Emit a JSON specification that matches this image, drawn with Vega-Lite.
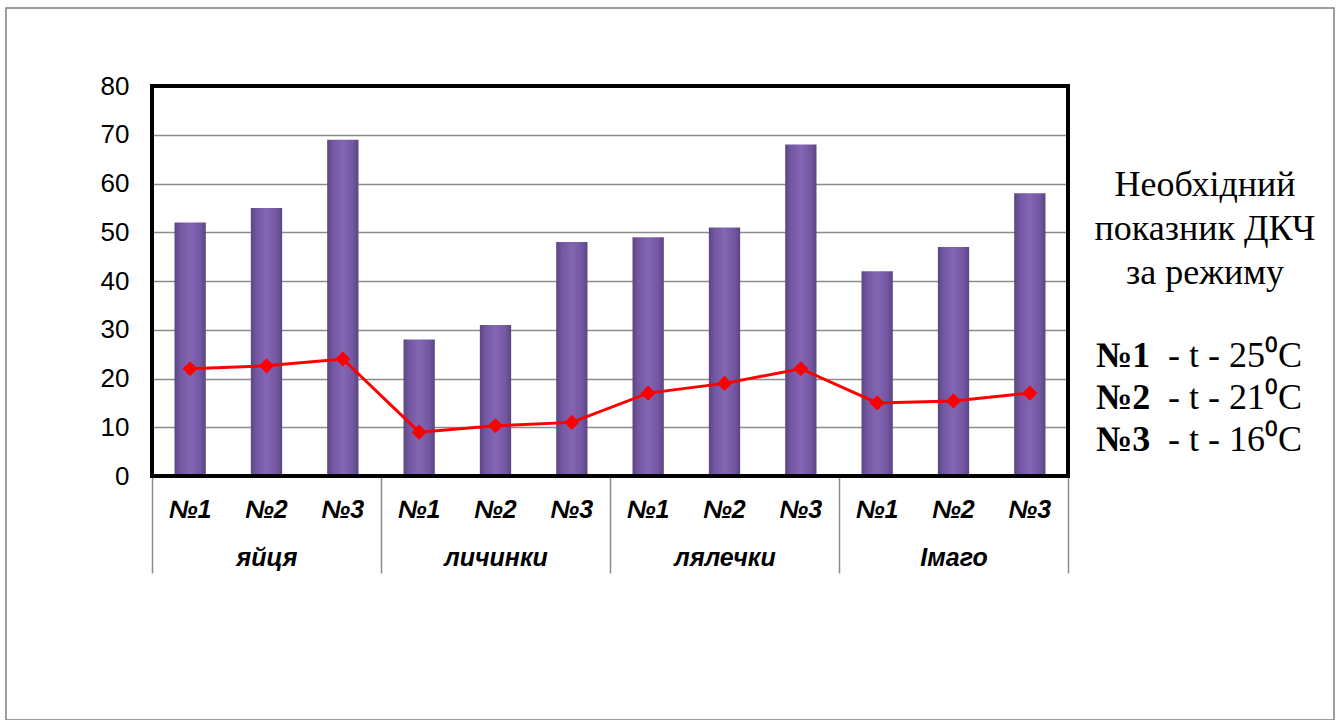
{
  "$schema": "https://vega.github.io/schema/vega-lite/v6.json",
  "width": 1328,
  "height": 712,
  "autosize": {"type": "none"},
  "padding": {"left": 6, "top": 8, "right": 5, "bottom": 0},
  "background": "white",
  "config": {
    "font": "Liberation Sans",
    "view": {"stroke": "#7f7f7f", "strokeWidth": 1.5}
  },
  "title": {
    "text": ["Необхідний", "показник ДКЧ", "за режиму"],
    "font": "Liberation Serif",
    "fontSize": 36,
    "fontWeight": "normal",
    "lineHeight": 44,
    "color": "black",
    "orient": "top",
    "anchor": "end",
    "frame": "group",
    "align": "center",
    "baseline": "top",
    "offset": 0,
    "dx": -129,
    "dy": 284
  },
  "data": {
    "values": [
      {"stage": "яйця", "regime": "№1", "temp": 25, "value": 52, "dkch": 22},
      {"stage": "яйця", "regime": "№2", "temp": 21, "value": 55, "dkch": 22.6},
      {"stage": "яйця", "regime": "№3", "temp": 16, "value": 69, "dkch": 24},
      {"stage": "личинки", "regime": "№1", "temp": 25, "value": 28, "dkch": 9},
      {"stage": "личинки", "regime": "№2", "temp": 21, "value": 31, "dkch": 10.3},
      {"stage": "личинки", "regime": "№3", "temp": 16, "value": 48, "dkch": 11},
      {"stage": "лялечки", "regime": "№1", "temp": 25, "value": 49, "dkch": 17},
      {"stage": "лялечки", "regime": "№2", "temp": 21, "value": 51, "dkch": 19},
      {"stage": "лялечки", "regime": "№3", "temp": 16, "value": 68, "dkch": 22},
      {"stage": "Імаго", "regime": "№1", "temp": 25, "value": 42, "dkch": 15},
      {"stage": "Імаго", "regime": "№2", "temp": 21, "value": 47, "dkch": 15.4},
      {"stage": "Імаго", "regime": "№3", "temp": 16, "value": 58, "dkch": 17}
    ]
  },
  "layer": [
    {
      "mark": {
        "type": "bar",
        "color": {
          "gradient": "linear", "x1": 0, "x2": 1, "y1": 0, "y2": 0,
          "stops": [
            {"offset": 0, "color": "#5a4580"},
            {"offset": 0.18, "color": "#7357a2"},
            {"offset": 0.5, "color": "#8466b2"},
            {"offset": 0.82, "color": "#7357a2"},
            {"offset": 1, "color": "#5a4580"}
          ]
        }
      },
      "encoding": {
        "x": {
          "field": "stage", "type": "nominal",
          "scale": {"type": "band", "domain": ["яйця", "личинки", "лялечки", "Імаго"], "range": [146, 1062], "paddingInner": 0, "paddingOuter": 0},
          "axis": {
            "title": null, "domain": false, "grid": false, "ticks": true, "tickBand": "extent",
            "tickSize": 97, "tickColor": "#8c8c8c", "tickWidth": 1.5,
            "labelFont": "Liberation Sans", "labelFontSize": 25, "labelFontWeight": "bold", "labelFontStyle": "italic",
            "labelColor": "black", "labelAngle": 0, "labelPadding": -28, "offset": -244
          }
        },
        "xOffset": {
          "field": "regime", "type": "nominal",
          "scale": {"domain": ["№1", "№2", "№3"], "paddingInner": 0.59, "paddingOuter": 0.295}
        },
        "y": {
          "field": "value", "type": "quantitative",
          "scale": {"domain": [0, 80], "range": [468, 78], "nice": false, "zero": true},
          "axis": {
            "title": null, "values": [0, 10, 20, 30, 40, 50, 60, 70, 80],
            "grid": true, "gridColor": "#8c8c8c", "gridWidth": 1.5,
            "domain": false, "ticks": false, "labelPadding": 23,
            "labelFont": "Liberation Sans", "labelFontSize": 26, "labelColor": "black",
            "offset": -146
          }
        }
      }
    },
    {
      "mark": {"type": "line", "color": "#ff0000", "strokeWidth": 3},
      "encoding": {
        "x": {"field": "stage", "type": "nominal"},
        "xOffset": {"field": "regime", "type": "nominal"},
        "y": {"field": "dkch", "type": "quantitative"},
        "order": {"value": null}
      }
    },
    {
      "mark": {"type": "point", "shape": "diamond", "filled": true, "size": 230, "opacity": 1},
      "encoding": {
        "x": {"field": "stage", "type": "nominal"},
        "xOffset": {"field": "regime", "type": "nominal"},
        "y": {"field": "dkch", "type": "quantitative"},
        "color": {
          "field": "regime", "type": "nominal",
          "scale": {"domain": ["№1", "№2", "№3"], "range": ["#ff0000", "#ff0000", "#ff0000"]},
          "legend": {
            "orient": "none", "legendX": 1054, "legendY": 330, "title": null, "padding": 0,
            "symbolOpacity": 0, "symbolSize": 1, "labelOffset": 0, "rowPadding": 6,
            "labelFont": "Liberation Serif", "labelFontSize": 36, "labelFontWeight": "bold",
            "labelColor": "black", "labelLimit": 400
          }
        },
        "shape": {
          "field": "temp", "type": "nominal",
          "scale": {"domain": [25, 21, 16], "range": ["diamond", "diamond", "diamond"]},
          "legend": {
            "orient": "none", "legendX": 1126, "legendY": 330, "title": null, "padding": 0,
            "symbolOpacity": 0, "symbolSize": 1, "labelOffset": 0, "rowPadding": 6,
            "labelFont": "Liberation Serif", "labelFontSize": 36, "labelFontWeight": "normal",
            "labelColor": "black", "labelLimit": 400,
            "labelExpr": "'- t - ' + datum.label + '⁰C'"
          }
        }
      }
    },
    {
      "mark": {"type": "rect", "fill": null, "stroke": "black", "strokeWidth": 4},
      "encoding": {
        "x": {"datum": "яйця", "bandPosition": 0},
        "x2": {"datum": "Імаго", "bandPosition": 1},
        "y": {"datum": 0},
        "y2": {"datum": 80}
      }
    },
    {
      "mark": {"type": "text", "font": "Liberation Sans", "fontSize": 25, "fontWeight": "bold", "fontStyle": "italic", "color": "black", "baseline": "middle", "dy": 34},
      "encoding": {
        "x": {"field": "stage", "type": "nominal"},
        "xOffset": {"field": "regime", "type": "nominal"},
        "y": {"datum": 0},
        "text": {"field": "regime"}
      }
    }
  ]
}
